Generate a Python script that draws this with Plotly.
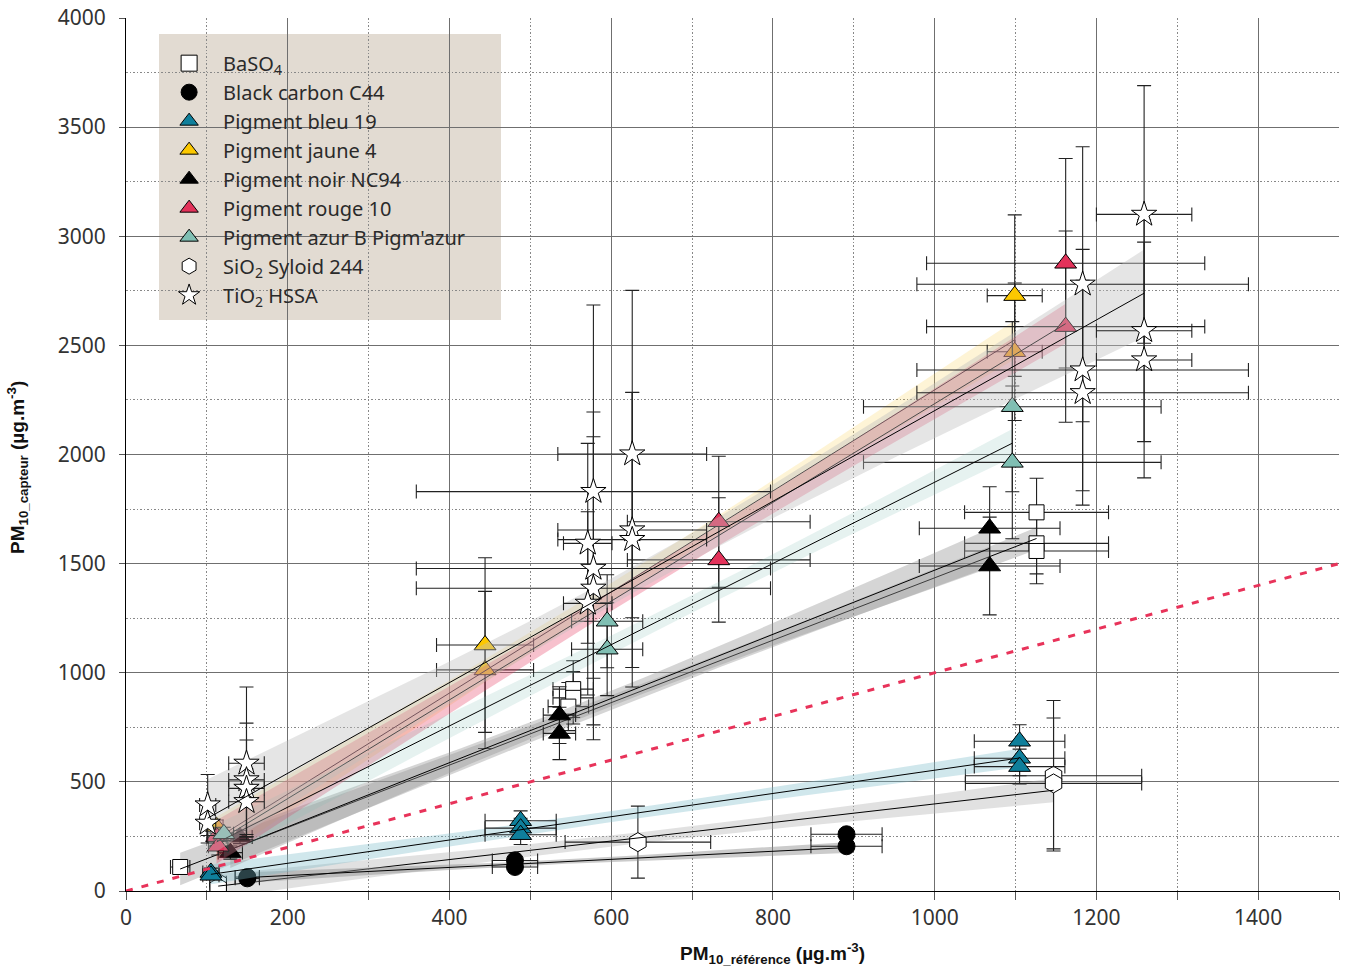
import numpy as np
import plotly.graph_objects as go

# ---------------- data ----------------
# BaSO4
baso4_x = [67, 553, 553, 547, 1126, 1126, 1126]
baso4_y = [110, 925, 885, 845, 1735, 1593, 1558]
baso4_xerr = [12, 25, 25, 25, 89, 89, 89]
baso4_yerr = [30, 130, 120, 110, 156, 140, 150]

# Black carbon C44
bc_x = [150, 150, 481, 481, 891, 891]
bc_y = [64, 58, 140, 110, 260, 205]
bc_xerr = [15, 15, 28, 28, 44, 44]
bc_yerr = [12, 12, 18, 18, 22, 22]

# Pigment bleu 19
bleu_x = [105, 105, 488, 488, 488, 1105, 1105, 1105]
bleu_y = [85, 72, 322, 288, 258, 686, 608, 570]
bleu_xerr = [10, 10, 44, 44, 44, 56, 56, 56]
bleu_yerr = [20, 20, 45, 45, 45, 76, 80, 80]

# Pigment jaune 4
jaune_x = [112, 444, 444, 1099, 1099]
jaune_y = [295, 1127, 1013, 2728, 2471]
jaune_xerr = [8, 60, 60, 34, 34]
jaune_yerr = [30, 400, 360, 370, 315]

# Pigment noir NC94
noir_x = [141, 129, 536, 536, 1068, 1068]
noir_y = [247, 176, 806, 722, 1662, 1489]
noir_xerr = [15, 15, 20, 20, 87, 87]
noir_yerr = [30, 30, 130, 120, 190, 224]

# Pigment rouge 10
rouge_x = [112, 114, 733, 733, 1162, 1162]
rouge_y = [249, 205, 1692, 1517, 2876, 2586]
rouge_xerr = [12, 12, 113, 113, 172, 172]
rouge_yerr = [40, 40, 300, 285, 480, 438]

# Pigment azur B Pigm'azur
azur_x = [121, 595, 595, 1096, 1096]
azur_y = [262, 1236, 1108, 2219, 1964]
azur_xerr = [12, 44, 44, 184, 184]
azur_yerr = [30, 213, 213, 390, 350]

# SiO2 Syloid 244
sio2_x = [114, 114, 633, 1147, 1147]
sio2_y = [38, 16, 224, 528, 493]
sio2_xerr = [10, 10, 90, 109, 109]
sio2_yerr = [20, 20, 165, 345, 300]

# TiO2 HSSA
tio2_x = [101, 101, 149, 149, 149, 149, 578, 578, 578, 571, 571,
          626, 626, 626, 1183, 1183, 1183, 1259, 1259, 1259]
tio2_y = [394, 310, 585, 509, 470, 409, 1830, 1478, 1387, 1593, 1318,
          2002, 1654, 1610, 2780, 2387, 2283, 3100, 2567, 2433]
tio2_xerr = [10, 10, 22, 22, 22, 22, 219, 219, 219, 30, 30,
             92, 92, 92, 205, 205, 205, 59, 59, 59]
tio2_yerr = [140, 90, 350, 260, 222, 150, 855, 717, 694, 458, 420,
             750, 630, 675, 630, 553, 515, 590, 508, 540]

# regression lines (slope, intercept) and band half widths
names = ["BaSO<sub>4</sub>", "Black carbon C44", "Pigment bleu 19", "Pigment jaune 4",
         "Pigment noir NC94", "Pigment rouge 10", "Pigment azur B Pigm'azur",
         "SiO<sub>2</sub> Syloid 244", "TiO<sub>2</sub> HSSA"]
fit_slope = [1.43, 0.185, 0.533, 2.315, 1.47, 2.262, 1.861, 0.425, 2.077]
fit_intercept = [5, 34, 20.5, -19, 0, -29, 12, -26, 124]
band_mid = [30, 10, 25, 40, 35, 45, 40, 25, 60]
band_end = [75, 25, 45, 100, 90, 100, 85, 55, 200]

# 1:1 reference line
ref_x = [0, 1500]
ref_y = [0, 1500]

# ---------------- styles ----------------
xs_all = [baso4_x, bc_x, bleu_x, jaune_x, noir_x, rouge_x, azur_x, sio2_x, tio2_x]
ys_all = [baso4_y, bc_y, bleu_y, jaune_y, noir_y, rouge_y, azur_y, sio2_y, tio2_y]
xe_all = [baso4_xerr, bc_xerr, bleu_xerr, jaune_xerr, noir_xerr, rouge_xerr, azur_xerr, sio2_xerr, tio2_xerr]
ye_all = [baso4_yerr, bc_yerr, bleu_yerr, jaune_yerr, noir_yerr, rouge_yerr, azur_yerr, sio2_yerr, tio2_yerr]

symbols = ["square", "circle", "triangle-up", "triangle-up", "triangle-up",
           "triangle-up", "triangle-up", "hexagon", "star"]
fills = ["white", "black", "#0f7f9b", "#fcc800", "black", "#e3325a", "#80bfb3", "white", "white"]
sizes = [15, 17, 19, 19, 19, 19, 19, 19, 19]
band_colors = ["rgba(150,150,150,0.40)", "rgba(140,140,140,0.45)", "rgba(120,185,200,0.35)",
               "rgba(252,205,70,0.22)", "rgba(150,150,150,0.40)", "rgba(227,50,90,0.30)",
               "rgba(128,191,180,0.20)", "rgba(180,180,180,0.40)", "rgba(190,190,190,0.40)"]
draw_order = [7, 0, 1, 2, 3, 4, 5, 6, 8]

fig = go.Figure()

# legend background box
fig.add_shape(type="rect", xref="paper", yref="paper",
              x0=(159 - 126) / 1213, x1=(501 - 126) / 1213,
              y0=(891 - 320) / 873, y1=(891 - 34) / 873,
              fillcolor="#e2dbd2", line=dict(width=0), layer="below")

# per series: confidence band, points with error bars, fit line
for i in draw_order:
    xd = np.array(xs_all[i], dtype=float)
    x0, x1 = xd.min(), xd.max()
    xm = xd.mean()
    xx = np.linspace(x0, x1, 80)
    yy = fit_slope[i] * xx + fit_intercept[i]
    far = max(x1 - xm, xm - x0)
    hw = np.sqrt(band_mid[i] ** 2 + (band_end[i] ** 2 - band_mid[i] ** 2) * ((xx - xm) / far) ** 2)
    bx = np.concatenate([xx, xx[::-1]])
    by = np.concatenate([yy + hw, (yy - hw)[::-1]])
    fig.add_trace(go.Scatter(x=bx, y=by, fill="toself", fillcolor=band_colors[i],
                             line=dict(width=0), mode="lines", showlegend=False,
                             hoverinfo="skip"))
    fig.add_trace(go.Scatter(
        x=xs_all[i], y=ys_all[i], mode="markers", showlegend=False, hoverinfo="skip",
        marker=dict(symbol=symbols[i], size=sizes[i], color=fills[i],
                    line=dict(color="black", width=1)),
        error_x=dict(type="data", array=xe_all[i], color="#222", thickness=1.1, width=7),
        error_y=dict(type="data", array=ye_all[i], color="#222", thickness=1.1, width=7),
    ))
    xl = np.array([x0, x1])
    fig.add_trace(go.Scatter(x=xl, y=fit_slope[i] * xl + fit_intercept[i], mode="lines",
                             line=dict(color="black", width=1), showlegend=False,
                             hoverinfo="skip"))

# 1:1 line
fig.add_trace(go.Scatter(x=ref_x, y=ref_y, mode="lines", showlegend=False,
                         line=dict(color="#e8335a", width=3, dash="7px,9px"), hoverinfo="skip"))

# legend entries
for i in range(len(names)):
    fig.add_trace(go.Scatter(
        x=[None], y=[None], mode="markers", name=names[i], legendgroup=str(i),
        marker=dict(symbol=symbols[i], size=18, color=fills[i],
                    line=dict(color="black", width=1)),
    ))

fig.update_layout(
    width=1347, height=970,
    margin=dict(l=126, r=8, t=18, b=79, autoexpand=False),
    plot_bgcolor="white", paper_bgcolor="white",
    font=dict(family="Noto Sans", size=20, color="#333"),
    showlegend=True,
    hovermode=False,
    legend=dict(x=0.024, y=0.9706, xanchor="left", yanchor="top",
                bgcolor="rgba(0,0,0,0)", borderwidth=0,
                font=dict(family="Noto Sans", size=20, color="#2a2a2a"),
                itemwidth=58, tracegroupgap=0, traceorder="grouped"),
    xaxis=dict(range=[0, 1500], tickmode="array", tickvals=[0, 200, 400, 600, 800, 1000, 1200, 1400],
               automargin=False,
               showgrid=True, gridcolor="#6f6f6f", gridwidth=1,
               showline=True, linecolor="black", linewidth=1.2,
               ticks="outside", ticklen=8, tickcolor="#555", zeroline=False,
               minor=dict(dtick=100, tick0=0, ticks="outside", ticklen=8, tickcolor="#555",
                          showgrid=True, gridcolor="#888", griddash="1.5px,2px", gridwidth=1),
               tickfont=dict(size=21, color="#333")),
    yaxis=dict(range=[0, 4000], dtick=500, tick0=0, automargin=False,
               showgrid=True, gridcolor="#6f6f6f", gridwidth=1,
               showline=True, linecolor="black", linewidth=1.2,
               ticks="outside", ticklen=6, tickcolor="#555", zeroline=False,
               ticklabelstandoff=9,
               minor=dict(dtick=250, tick0=0, showgrid=True, gridcolor="#888",
                          griddash="1.5px,2px", gridwidth=1),
               tickfont=dict(size=21, color="#333")),
    annotations=[
        dict(text="<b>PM<sub>10_référence</sub> (µg.m<sup>-3</sup>)</b>", xref="paper", yref="paper",
             x=(772 - 126) / 1213, y=-0.072, xanchor="center", yanchor="middle", showarrow=False,
             font=dict(family="Liberation Sans", size=19, color="#111")),
        dict(text="<b>PM<sub>10_capteur</sub> (µg.m<sup>-3</sup>)</b>", xref="paper", yref="paper",
             x=(18 - 126) / 1213, y=(891 - 468) / 873, xanchor="center", yanchor="middle",
             showarrow=False, textangle=-90,
             font=dict(family="Liberation Sans", size=19, color="#111")),
    ],
)

fig.write_html("out.html", config={"displayModeBar": False})
with open("out.html", "r", encoding="utf-8") as f:
    html = f.read()
html = html.replace("<head>", "<head><style>html,body{margin:0;padding:0;}</style>", 1)
with open("out.html", "w", encoding="utf-8") as f:
    f.write(html)
